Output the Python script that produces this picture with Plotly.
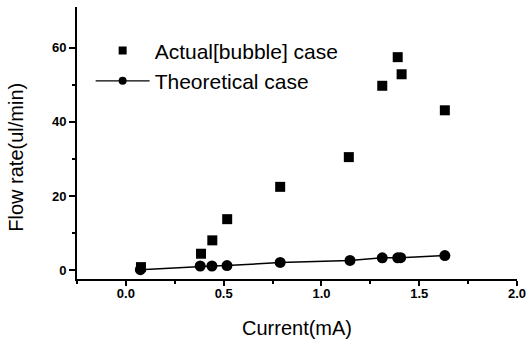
import plotly.graph_objects as go

# Data
actual_x = [0.077, 0.384, 0.442, 0.518, 0.789, 1.140, 1.311, 1.390, 1.410, 1.631]
actual_y = [0.9, 4.5, 8.1, 13.8, 22.5, 30.5, 49.7, 57.4, 52.8, 43.1]

theory_x = [0.074, 0.380, 0.440, 0.517, 0.789, 1.146, 1.311, 1.390, 1.405, 1.631]
theory_y = [0.2, 1.2, 1.2, 1.3, 2.15, 2.7, 3.4, 3.4, 3.45, 4.0]

x_ticks = [0.0, 0.5, 1.0, 1.5, 2.0]
x_ticklabels = ["0.0", "0.5", "1.0", "1.5", "2.0"]
y_ticks = [0, 20, 40, 60]
y_ticklabels = ["0", "20", "40", "60"]

series_names = ["Actual[bubble] case", "Theoretical case"]
x_title = "Current(mA)"
y_title = "Flow rate(ul/min)"

FONT = "Liberation Sans, Arial, sans-serif"

fig = go.Figure()

fig.add_trace(go.Scatter(
    x=theory_x, y=theory_y, mode="lines+markers",
    line=dict(color="black", width=1.5),
    marker=dict(symbol="circle", size=11, color="black"),
    showlegend=False,
))
fig.add_trace(go.Scatter(
    x=actual_x, y=actual_y, mode="markers",
    marker=dict(symbol="square", size=10, color="black"),
    showlegend=False,
))

# Legend entries
fig.add_trace(go.Scatter(
    x=[None], y=[None], mode="markers", name=series_names[0],
    marker=dict(symbol="square", size=8, color="black"),
))
fig.add_trace(go.Scatter(
    x=[None], y=[None], mode="lines+markers", name=series_names[1],
    line=dict(color="black", width=1.2),
    marker=dict(symbol="circle", size=8, color="black"),
))

fig.update_layout(
    width=530, height=339,
    margin=dict(l=77, r=13, t=7, b=60, autoexpand=False),
    paper_bgcolor="white", plot_bgcolor="white",
    font=dict(family=FONT, color="black"),
    showlegend=True,
    legend=dict(
        x=0.031, y=0.914, xanchor="left", yanchor="top",
        bgcolor="rgba(0,0,0,0)",
        font=dict(size=21, family=FONT, color="black"),
        itemwidth=54,
        tracegroupgap=0,
    ),
    xaxis=dict(
        range=[-0.25, 2.0], automargin=False,
        showgrid=False, zeroline=False,
        showline=True, linecolor="black", linewidth=2,
        ticks="outside", ticklen=5, tickwidth=1.5, tickcolor="black",
        tickvals=x_ticks, ticktext=["<b>%s</b>" % t for t in x_ticklabels],
        tickfont=dict(size=13, family=FONT),
        ticklabelstandoff=-4,
        minor=dict(tickvals=[-0.25, 0.25, 0.75, 1.25, 1.75], ticks="outside",
                   ticklen=3, tickwidth=1.5, tickcolor="black"),
    ),
    yaxis=dict(
        range=[-2.3, 70.9], automargin=False,
        showgrid=False, zeroline=False,
        showline=True, linecolor="black", linewidth=2,
        ticks="outside", ticklen=6, tickwidth=1.5, tickcolor="black",
        tickvals=y_ticks, ticktext=["<b>%s</b>" % t for t in y_ticklabels],
        tickfont=dict(size=13, family=FONT),
        minor=dict(tickvals=[10, 30, 50], ticks="outside",
                   ticklen=3, tickwidth=1.5, tickcolor="black"),
    ),
    annotations=[
        dict(
            text=y_title, textangle=-90,
            xref="paper", yref="paper", x=-0.139, y=0.449,
            xanchor="center", yanchor="middle", showarrow=False,
            font=dict(size=20, family=FONT, color="black"),
        ),
        dict(
            text=x_title,
            xref="paper", yref="paper", x=0.499, y=-0.180,
            xanchor="center", yanchor="middle", showarrow=False,
            font=dict(size=20, family=FONT, color="black"),
        ),
    ],
)

# Remove the browser's default page margin so the 530x339 figure fills the window.
fig.write_html(
    "out.html",
    config={"displayModeBar": False},
    post_script="document.body.style.margin='0';document.body.style.overflow='hidden';",
)
